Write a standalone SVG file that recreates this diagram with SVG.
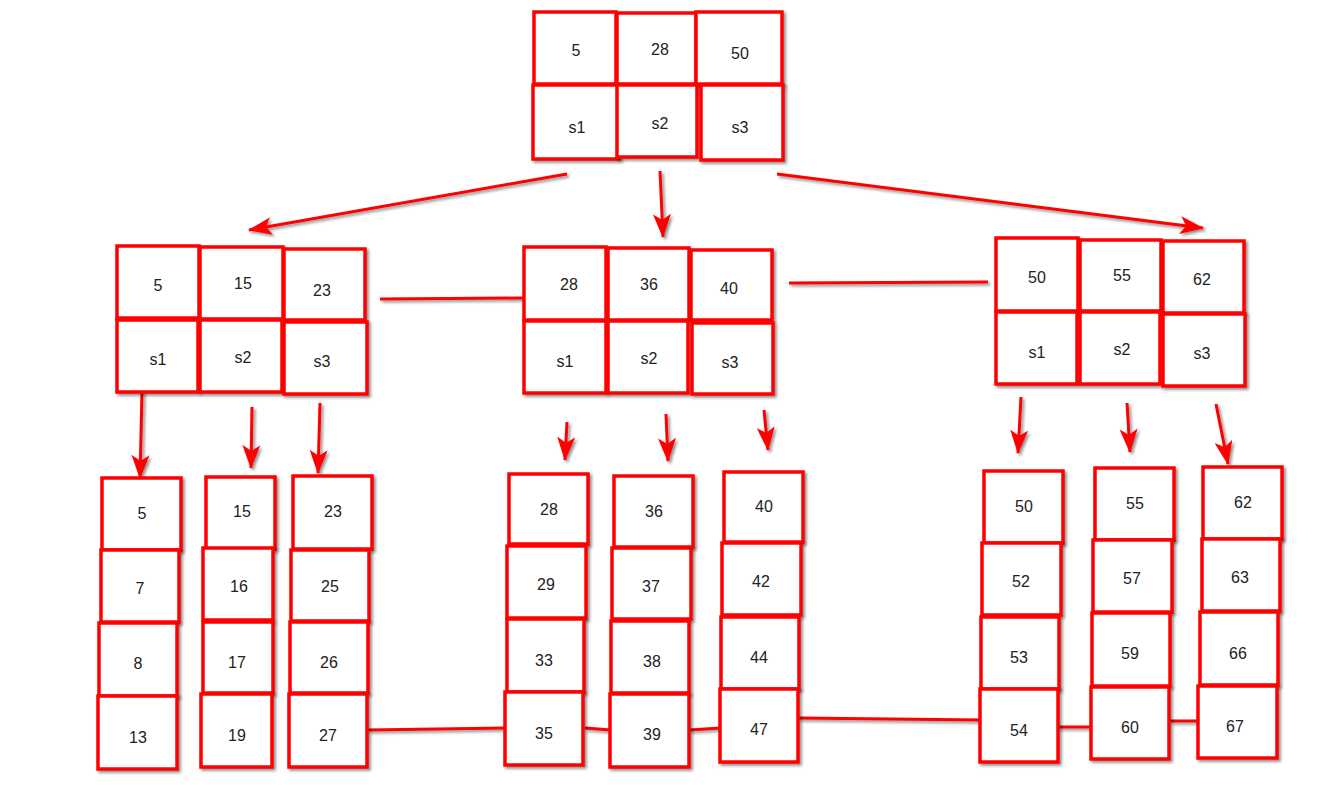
<svg xmlns="http://www.w3.org/2000/svg" width="1320" height="785" viewBox="0 0 1320 785">
<style>
.c{fill:#fff;stroke:#ff0000;stroke-width:3.5;filter:url(#sh)}
.t{font-family:"Liberation Sans",Arial,sans-serif;font-size:16px;fill:#222;text-anchor:middle}
.l{fill:none;stroke:#ff0000;stroke-width:3;filter:url(#sh)}
.a{marker-end:url(#ah)}
</style>
<defs>
<filter id="sh" filterUnits="userSpaceOnUse" x="0" y="0" width="1320" height="785">
<feDropShadow dx="2" dy="2" stdDeviation="1.5" flood-color="#000" flood-opacity="0.45"/>
</filter>
<marker id="ah" markerUnits="userSpaceOnUse" markerWidth="24" markerHeight="18" viewBox="0 0 24 18" refX="23" refY="9" orient="auto">
<path d="M0,0 L24,9 L0,18 L6,9 z" fill="#ff0000"/>
</marker>
</defs>
<rect width="1320" height="785" fill="#fff"/>
<g id="connectors">
<path class="l a" d="M567,174 L249,230"/>
<path class="l a" d="M660,171 L663,237"/>
<path class="l a" d="M777,174 L1203,228"/>
<path class="l" d="M380,299 L524,298"/>
<path class="l" d="M789,283 L988,282"/>
<path class="l a" d="M142,391 L140,478"/>
<path class="l a" d="M252,407 L251,468"/>
<path class="l a" d="M320,403 L318,473"/>
<path class="l a" d="M567,422 L565,460"/>
<path class="l a" d="M666,414 L668,461"/>
<path class="l a" d="M764,410 L768,450"/>
<path class="l a" d="M1021,397 L1018,453"/>
<path class="l a" d="M1127,403 L1130,452"/>
<path class="l a" d="M1216,404 L1228,464"/>
<path class="l" d="M368,730 L507,728"/>
<path class="l" d="M585,728 L611,730"/>
<path class="l" d="M689,730 L721,728"/>
<path class="l" d="M798,718 L981,720"/>
<path class="l" d="M1058,727 L1093,727"/>
<path class="l" d="M1170,721 L1200,721"/>
</g>
<g id="root">
<rect class="c" x="534" y="12" width="82" height="72"/><text class="t" x="576" y="56">5</text>
<rect class="c" x="617" y="13" width="79" height="71"/><text class="t" x="660" y="55">28</text>
<rect class="c" x="696" y="12" width="86" height="72"/><text class="t" x="740" y="59">50</text>
<rect class="c" x="533" y="85" width="86" height="74"/><text class="t" x="577" y="133">s1</text>
<rect class="c" x="617" y="85" width="80" height="72"/><text class="t" x="660" y="129">s2</text>
<rect class="c" x="701" y="85" width="82" height="75"/><text class="t" x="740" y="133">s3</text>
</g>
<g id="inner-left">
<rect class="c" x="117" y="246" width="82" height="72"/><text class="t" x="158" y="291">5</text>
<rect class="c" x="200" y="247" width="83" height="72"/><text class="t" x="243" y="289">15</text>
<rect class="c" x="284" y="249" width="81" height="71"/><text class="t" x="322" y="296">23</text>
<rect class="c" x="117" y="320" width="81" height="72"/><text class="t" x="158" y="365">s1</text>
<rect class="c" x="200" y="320" width="82" height="72"/><text class="t" x="243" y="363">s2</text>
<rect class="c" x="284" y="322" width="83" height="72"/><text class="t" x="322" y="367">s3</text>
</g>
<g id="inner-middle">
<rect class="c" x="524" y="247" width="82" height="73"/><text class="t" x="569" y="290">28</text>
<rect class="c" x="608" y="248" width="81" height="72"/><text class="t" x="649" y="290">36</text>
<rect class="c" x="691" y="250" width="81" height="70"/><text class="t" x="729" y="294">40</text>
<rect class="c" x="524" y="321" width="82" height="72"/><text class="t" x="565" y="367">s1</text>
<rect class="c" x="608" y="321" width="80" height="72"/><text class="t" x="649" y="364">s2</text>
<rect class="c" x="692" y="323" width="81" height="71"/><text class="t" x="730" y="368">s3</text>
</g>
<g id="inner-right">
<rect class="c" x="996" y="238" width="82" height="73"/><text class="t" x="1037" y="283">50</text>
<rect class="c" x="1080" y="240" width="81" height="71"/><text class="t" x="1122" y="281">55</text>
<rect class="c" x="1163" y="241" width="81" height="72"/><text class="t" x="1202" y="285">62</text>
<rect class="c" x="996" y="312" width="81" height="72"/><text class="t" x="1037" y="358">s1</text>
<rect class="c" x="1080" y="312" width="80" height="72"/><text class="t" x="1122" y="355">s2</text>
<rect class="c" x="1163" y="314" width="82" height="72"/><text class="t" x="1202" y="359">s3</text>
</g>
<g id="leaf-5">
<rect class="c" x="102" y="478" width="79" height="72"/><text class="t" x="142" y="519">5</text>
<rect class="c" x="101" y="550" width="78" height="72"/><text class="t" x="140" y="594">7</text>
<rect class="c" x="99" y="623" width="78" height="73"/><text class="t" x="138" y="669">8</text>
<rect class="c" x="98" y="696" width="79" height="73"/><text class="t" x="138" y="743">13</text>
</g>
<g id="leaf-15">
<rect class="c" x="206" y="477" width="69" height="72"/><text class="t" x="242" y="517">15</text>
<rect class="c" x="203" y="548" width="70" height="72"/><text class="t" x="239" y="592">16</text>
<rect class="c" x="203" y="622" width="70" height="71"/><text class="t" x="237" y="668">17</text>
<rect class="c" x="201" y="694" width="71" height="73"/><text class="t" x="237" y="741">19</text>
</g>
<g id="leaf-23">
<rect class="c" x="293" y="476" width="79" height="73"/><text class="t" x="333" y="517">23</text>
<rect class="c" x="291" y="550" width="78" height="71"/><text class="t" x="330" y="592">25</text>
<rect class="c" x="290" y="622" width="78" height="71"/><text class="t" x="329" y="668">26</text>
<rect class="c" x="289" y="694" width="78" height="73"/><text class="t" x="328" y="741">27</text>
</g>
<g id="leaf-28">
<rect class="c" x="509" y="474" width="79" height="70"/><text class="t" x="549" y="515">28</text>
<rect class="c" x="507" y="546" width="79" height="72"/><text class="t" x="546" y="590">29</text>
<rect class="c" x="507" y="619" width="77" height="73"/><text class="t" x="544" y="666">33</text>
<rect class="c" x="505" y="692" width="78" height="73"/><text class="t" x="544" y="739">35</text>
</g>
<g id="leaf-36">
<rect class="c" x="614" y="476" width="79" height="71"/><text class="t" x="654" y="517">36</text>
<rect class="c" x="612" y="548" width="79" height="71"/><text class="t" x="651" y="592">37</text>
<rect class="c" x="611" y="621" width="78" height="72"/><text class="t" x="652" y="667">38</text>
<rect class="c" x="610" y="694" width="79" height="73"/><text class="t" x="652" y="740">39</text>
</g>
<g id="leaf-40">
<rect class="c" x="724" y="472" width="79" height="70"/><text class="t" x="764" y="512">40</text>
<rect class="c" x="722" y="543" width="79" height="72"/><text class="t" x="761" y="587">42</text>
<rect class="c" x="721" y="617" width="78" height="72"/><text class="t" x="759" y="663">44</text>
<rect class="c" x="720" y="689" width="78" height="73"/><text class="t" x="759" y="735">47</text>
</g>
<g id="leaf-50">
<rect class="c" x="984" y="471" width="79" height="72"/><text class="t" x="1024" y="512">50</text>
<rect class="c" x="982" y="543" width="79" height="72"/><text class="t" x="1021" y="587">52</text>
<rect class="c" x="981" y="617" width="78" height="72"/><text class="t" x="1019" y="663">53</text>
<rect class="c" x="980" y="689" width="78" height="73"/><text class="t" x="1019" y="736">54</text>
</g>
<g id="leaf-55">
<rect class="c" x="1095" y="468" width="79" height="72"/><text class="t" x="1135" y="509">55</text>
<rect class="c" x="1093" y="540" width="79" height="72"/><text class="t" x="1132" y="584">57</text>
<rect class="c" x="1092" y="613" width="78" height="73"/><text class="t" x="1130" y="659">59</text>
<rect class="c" x="1091" y="687" width="78" height="72"/><text class="t" x="1130" y="733">60</text>
</g>
<g id="leaf-62">
<rect class="c" x="1203" y="467" width="79" height="72"/><text class="t" x="1243" y="508">62</text>
<rect class="c" x="1202" y="539" width="78" height="72"/><text class="t" x="1240" y="583">63</text>
<rect class="c" x="1200" y="612" width="78" height="73"/><text class="t" x="1238" y="659">66</text>
<rect class="c" x="1198" y="686" width="79" height="72"/><text class="t" x="1235" y="732">67</text>
</g>
</svg>
